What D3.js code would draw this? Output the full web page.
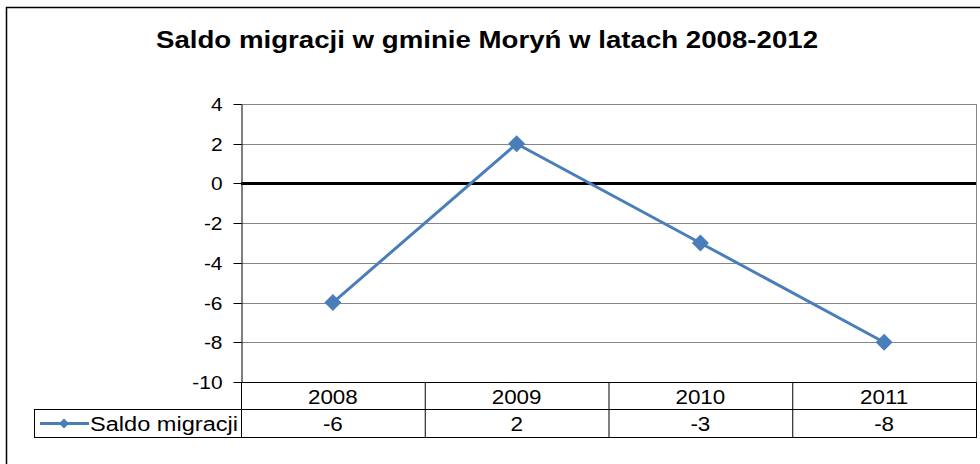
<!DOCTYPE html>
<html lang="pl">
  <head>
    <meta charset="UTF-8" />
    <title>Saldo migracji w gminie Moryń w latach 2008-2012</title>
    <script src="https://d3js.org/d3.v7.min.js"></script>
    <style>
      body { margin: 0; background: #fff; }
      text { font-family: "Liberation Sans", Arial, sans-serif; fill: #000; }
      .chart-title { font-size: 23px; font-weight: bold; text-anchor: middle; }
    </style>
  </head>
  <body>
    <svg id="chart" width="980" height="464"></svg>
    <script>
      // Data
      const years = ["2008", "2009", "2010", "2011"];
      const saldo = [-6, 2, -3, -8];
      const yTicks = [4, 2, 0, -2, -4, -6, -8, -10];
      const seriesName = "Saldo migracji";
      const title = "Saldo migracji w gminie Moryń w latach 2008-2012";

      const svg = d3.select("#chart");
      const plot = { left: 241, right: 976, top: 104, bottom: 382 };
      const rowH = 28;
      const legendLeft = 34;
      const lineColor = "#4a7ebb";
      const fontSize = 20;

      // the original text is drawn a bit wider than Arial
      function stretch(sel, k) {
        sel.each(function () {
          const w = this.getComputedTextLength();
          d3.select(this)
            .attr("textLength", w * k)
            .attr("lengthAdjust", "spacingAndGlyphs");
        });
      }

      // outer frame
      svg.append("path")
        .attr("d", "M6.5,470 L6.5,7.5 L990,7.5")
        .attr("fill", "none")
        .attr("stroke", "#000")
        .attr("stroke-width", 1.5);

      svg.append("text")
        .attr("class", "chart-title")
        .attr("x", 487)
        .attr("y", 48)
        .attr("textLength", 662)
        .attr("lengthAdjust", "spacingAndGlyphs")
        .text(title);

      const x = d3.scaleBand().domain(years).range([plot.left, plot.right]);
      const y = d3.scaleLinear().domain([-10, 4]).range([plot.bottom, plot.top]);

      // gridlines
      svg.append("g")
        .selectAll("line")
        .data(yTicks.filter((d) => d !== 0))
        .join("line")
        .attr("x1", plot.left)
        .attr("x2", plot.right)
        .attr("y1", (d) => Math.round(y(d)) + 0.5)
        .attr("y2", (d) => Math.round(y(d)) + 0.5)
        .attr("stroke", "#868686")
        .attr("stroke-width", 1);

      // right border of plot area
      svg.append("line")
        .attr("x1", plot.right + 0.5).attr("x2", plot.right + 0.5)
        .attr("y1", plot.top).attr("y2", plot.bottom)
        .attr("stroke", "#868686");

      // y axis
      const yAxis = svg.append("g")
        .attr("transform", `translate(${plot.left + 0.5},0)`)
        .call(d3.axisLeft(y)
          .tickValues(yTicks)
          .tickFormat((d) => String(d))
          .tickSize(8)
          .tickPadding(11)
          .tickSizeOuter(0));
      yAxis.select(".domain").attr("stroke", "#000");
      yAxis.selectAll(".tick line").attr("stroke", "#000");
      yAxis.selectAll(".tick text")
        .attr("font-size", 19)
        .attr("font-family", "Liberation Sans, Arial, sans-serif")
        .attr("fill", "#000")
        .call(stretch, 1.1);
      yAxis.selectAll(".tick").attr("transform", (d) => `translate(0,${Math.round(y(d)) + 0.5})`);

      // zero line
      svg.append("line")
        .attr("x1", plot.left)
        .attr("x2", plot.right)
        .attr("y1", y(0))
        .attr("y2", y(0))
        .attr("stroke", "#000")
        .attr("stroke-width", 3);

      // data table
      const table = svg.append("g");
      const tb = plot.bottom + 0.5;
      table.append("line")
        .attr("x1", plot.left).attr("x2", plot.right + 1)
        .attr("y1", tb).attr("y2", tb)
        .attr("stroke", "#000");
      table.append("line")
        .attr("x1", legendLeft).attr("x2", plot.right + 1)
        .attr("y1", tb + rowH - 1).attr("y2", tb + rowH - 1)
        .attr("stroke", "#000");
      table.append("line")
        .attr("x1", legendLeft).attr("x2", plot.right + 1)
        .attr("y1", tb + rowH * 2 - 1).attr("y2", tb + rowH * 2 - 1)
        .attr("stroke", "#000");
      table.append("line")
        .attr("x1", legendLeft + 0.5).attr("x2", legendLeft + 0.5)
        .attr("y1", tb + rowH - 1).attr("y2", tb + rowH * 2 - 1)
        .attr("stroke", "#000");
      table.selectAll(".vdiv")
        .data(years.concat(["end"]))
        .join("line")
        .attr("class", "vdiv")
        .attr("x1", (d) => (d === "end" ? plot.right : x(d)) + 0.5)
        .attr("x2", (d) => (d === "end" ? plot.right : x(d)) + 0.5)
        .attr("y1", tb)
        .attr("y2", tb + rowH * 2 - 1)
        .attr("stroke", "#000");

      table.selectAll(".year")
        .data(years)
        .join("text")
        .attr("class", "year")
        .attr("x", (d) => x(d) + x.bandwidth() / 2)
        .attr("y", tb + 21)
        .attr("text-anchor", "middle")
        .attr("font-size", fontSize)
        .text((d) => d)
        .call(stretch, 1.12);

      table.selectAll(".val")
        .data(saldo)
        .join("text")
        .attr("class", "val")
        .attr("x", (d, i) => x(years[i]) + x.bandwidth() / 2)
        .attr("y", tb + rowH + 20)
        .attr("text-anchor", "middle")
        .attr("font-size", fontSize)
        .text((d) => d)
        .call(stretch, 1.12);

      // legend key in table
      const ly = tb + rowH + 13;
      table.append("line")
        .attr("x1", 40).attr("x2", 89)
        .attr("y1", ly).attr("y2", ly)
        .attr("stroke", lineColor).attr("stroke-width", 3);
      table.append("path")
        .attr("d", d3.symbol(d3.symbolSquare, 50)())
        .attr("transform", `translate(64,${ly}) rotate(45)`)
        .attr("fill", lineColor);
      table.append("text")
        .attr("x", 90)
        .attr("y", tb + rowH + 20)
        .attr("font-size", fontSize)
        .attr("textLength", 148)
        .attr("lengthAdjust", "spacingAndGlyphs")
        .text(seriesName);

      // series line
      const line = d3.line()
        .x((d, i) => x(years[i]) + x.bandwidth() / 2)
        .y((d) => y(d));
      svg.append("path")
        .datum(saldo)
        .attr("d", line)
        .attr("fill", "none")
        .attr("stroke", lineColor)
        .attr("stroke-width", 3);

      svg.selectAll(".marker")
        .data(saldo)
        .join("path")
        .attr("class", "marker")
        .attr("d", d3.symbol(d3.symbolSquare, 144)())
        .attr("transform", (d, i) => `translate(${x(years[i]) + x.bandwidth() / 2},${y(d)}) rotate(45)`)
        .attr("fill", lineColor);
    </script>
  </body>
</html>
